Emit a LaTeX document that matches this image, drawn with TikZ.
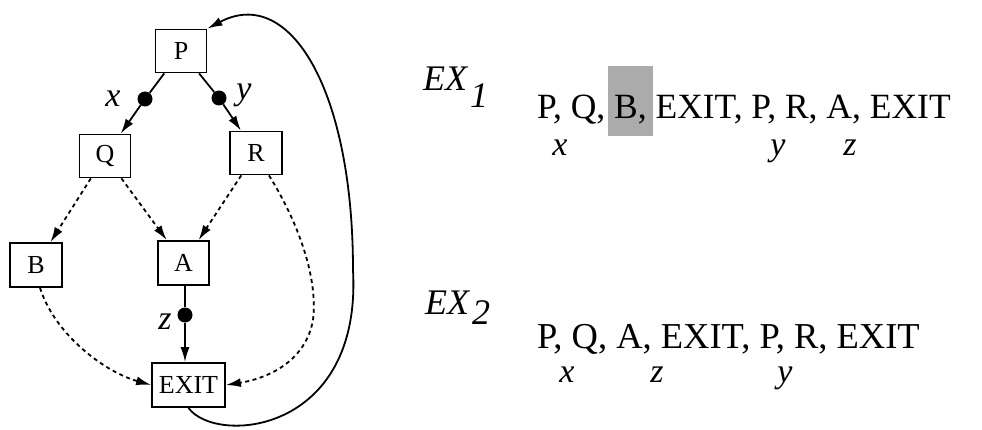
\documentclass[tikz,border=0pt]{standalone}
\usepackage{fontspec}
\setmainfont{Liberation Serif}
\usetikzlibrary{arrows.meta}
\begin{document}
\begin{tikzpicture}[x=1pt,y=-1pt,
  box/.style={draw, line width=1.8pt, minimum width=51pt, minimum height=43pt, inner sep=0pt, font=\fontsize{26}{28}\selectfont},
  dotn/.style={circle, fill=black, inner sep=0pt, minimum size=15pt},
  edge/.style={line width=1.8pt},
  arr/.style={line width=1.8pt, -{Latex[length=15pt,width=9pt]}},
  darr/.style={line width=1.8pt, dash pattern=on 4pt off 3.5pt, -{Latex[length=15pt,width=9pt]}},
  lbl/.style={font=\fontsize{34}{36}\selectfont\itshape, inner sep=0pt},
  sub/.style={font=\fontsize{34}{36}\selectfont\itshape, inner sep=0pt, anchor=base},
  seq/.style={font=\fontsize{35.5}{40}\selectfont, inner sep=0pt, anchor=base west},
  exl/.style={font=\fontsize{36}{40}\selectfont\itshape, inner sep=0pt, anchor=base west}
]
\useasboundingbox (0,0) rectangle (982,430);
% nodes
\node[box] (P) at (181,51) {P};
\node[box] (Q) at (105,156) {Q};
\node[box, minimum width=52pt] (R) at (256,153) {R};
\node[box, minimum width=52pt, minimum height=44pt] (B) at (36,265) {B};
\node[box, minimum height=44pt] (A) at (183.5,263) {A};
\node[box, minimum width=73pt, minimum height=44pt] (EXIT) at (188.5,385) {EXIT};
% dots
\node[dotn] (xd) at (145,99) {};
\node[dotn] (yd) at (219,98) {};
\node[dotn] (zd) at (185,315) {};
\node[lbl] (xl) at (113,99) {x};
\node[lbl] (yl) at (244,95) {y};
\node[lbl] (zl) at (165,322) {z};
% solid edges
\draw[edge] (P) -- (xd);
\draw[arr] (xd) -- (Q);
\draw[edge] (P) -- (yd);
\draw[arr] (yd) -- (R);
\draw[edge] (zd |- A.south) -- (zd);
\draw[arr] (zd) -- (zd |- EXIT.north);
% dashed edges
\draw[darr] (Q) -- (B);
\draw[darr] (Q) -- (A);
\draw[darr] (R) -- (A);
\draw[darr] (R.-60) .. controls (300,225) and (318,280) .. (313,320) .. controls (306,360) and (270,378) .. (EXIT.east);
\draw[darr] (B.-80) .. controls (55,335) and (105,372) .. (EXIT.west);
% loop back
\coordinate (m1) at (353,270);
\draw[edge] (EXIT.south) .. controls (215,445) and (362,435) .. (m1);
\draw[arr] (m1) .. controls (353,90) and (290,-15) .. (P.north east);
% right side
\fill[black!33] (608,66) rectangle (653,136);
\node[exl] (ex1) at (423,91) {EX};
\node[exl] (ex1s) at (470,108) {1};
\node[seq] (s1) at (537,119) {P, Q, B, EXIT, P, R, A, EXIT};
\node[sub] (s1x) at (560,156) {x};
\node[sub] (s1y) at (778,156) {y};
\node[sub] (s1z) at (850,156) {z};
\node[exl] (ex2) at (425,314) {EX};
\node[exl] (ex2s) at (472,324) {2};
\node[seq, font=\fontsize{36.5}{40}\selectfont] (s2) at (537,348) {P, Q, A, EXIT, P, R, EXIT};
\node[sub] (s2x) at (567,382) {x};
\node[sub] (s2z) at (657,382) {z};
\node[sub] (s2y) at (785,382) {y};
\end{tikzpicture}
\end{document}
